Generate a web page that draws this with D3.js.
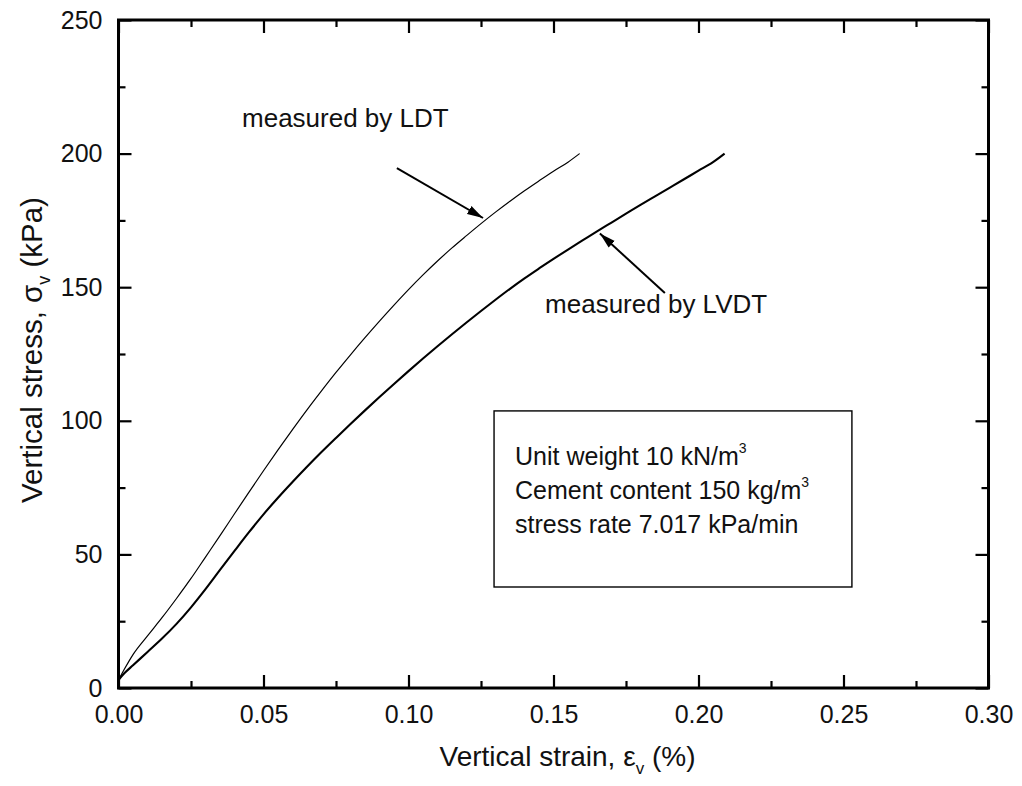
<!DOCTYPE html>
<html><head><meta charset="utf-8">
<script src="https://cdn.jsdelivr.net/npm/d3@7"></script>
<style>
html,body{margin:0;padding:0;background:#fff;}
svg{display:block;font-family:"Liberation Sans",Arial,sans-serif;}
</style></head>
<body>
<svg id="chart" width="1022" height="786"></svg>
<script>
// ---- data (strain in %, stress in kPa) ----
const ldtStrain = [0, 0.002, 0.005, 0.010, 0.015, 0.020, 0.025, 0.030, 0.035, 0.040, 0.045, 0.050, 0.055, 0.060, 0.065, 0.070, 0.075, 0.080, 0.085, 0.090, 0.095, 0.100, 0.105, 0.110, 0.115, 0.120, 0.125, 0.130, 0.135, 0.140, 0.145, 0.150, 0.155, 0.159];
const ldtStress = [3, 7, 12.5, 19.5, 26.3, 33.5, 41, 49, 57, 65.2, 73.3, 81.3, 89.1, 96.7, 104.1, 111.2, 118.1, 124.7, 131.1, 137.3, 143.3, 149.1, 154.6, 159.8, 164.7, 169.3, 173.8, 178.1, 182.2, 186.1, 189.8, 193.4, 196.8, 200];
const lvdtStrain = [0, 0.002, 0.005, 0.010, 0.015, 0.020, 0.025, 0.030, 0.035, 0.040, 0.045, 0.050, 0.055, 0.060, 0.065, 0.070, 0.075, 0.080, 0.085, 0.090, 0.095, 0.100, 0.105, 0.110, 0.115, 0.120, 0.125, 0.130, 0.135, 0.140, 0.145, 0.150, 0.155, 0.160, 0.165, 0.170, 0.175, 0.180, 0.185, 0.190, 0.195, 0.200, 0.205, 0.209];
const lvdtStress = [3, 5.5, 8.5, 13.5, 18.5, 24, 30.2, 37, 44.2, 51.3, 58.3, 65, 71.2, 77.1, 82.8, 88.3, 93.6, 98.8, 103.9, 108.9, 113.8, 118.6, 123.3, 127.9, 132.4, 136.8, 141.1, 145.3, 149.4, 153.3, 157, 160.6, 164.1, 167.5, 170.9, 174.2, 177.5, 180.8, 184, 187.2, 190.4, 193.6, 196.8, 200];

const xMajorTicks = [0, 0.05, 0.10, 0.15, 0.20, 0.25, 0.30];
const xMinorTicks = [0.025, 0.075, 0.125, 0.175, 0.225, 0.275];
const yMajorTicks = [0, 50, 100, 150, 200, 250];
const yMinorTicks = [25, 75, 125, 175, 225];

const xLabel = "Vertical strain, ";
const yLabel = "Vertical stress, ";
const boxLines = [["Unit weight 10 kN/m", "3"], ["Cement content 150 kg/m", "3"], ["stress rate 7.017 kPa/min", ""]];

// annotation anchors in data units
const ldtNote = {text: "measured by LDT", x: 0.0426, y: 210, from: [0.0960, 194.6], to: [0.1257, 175.9]};
const lvdtNote = {text: "measured by LVDT", x: 0.1471, y: 140.3, from: [0.1884, 147.8], to: [0.1660, 170.1]};
const infoBox = {x0: 0.1295, x1: 0.2529, y0: 103.7, y1: 37.8};

// ---- drawing ----
const svg = d3.select("#chart");
const x = d3.scaleLinear().domain([0, 0.30]).range([118.5, 988.5]);
const y = d3.scaleLinear().domain([0, 250]).range([688, 20]);
const fmtX = d3.format(".2f");

svg.append("defs").append("marker")
  .attr("id", "arrow").attr("markerUnits", "userSpaceOnUse")
  .attr("viewBox", "0 0 16 10").attr("refX", 16).attr("refY", 5)
  .attr("markerWidth", 16).attr("markerHeight", 10).attr("orient", "auto")
  .append("path").attr("d", "M0,0.5 L16,5 L0,9.5 Z").attr("fill", "#000");

const x0 = x.range()[0], x1 = x.range()[1], y0 = y.range()[0], y1 = y.range()[1];

function styleAxis(g) {
  g.select(".domain").remove();
  g.selectAll(".tick line").attr("stroke", "#000").attr("stroke-width", 2.2);
  g.selectAll("text").attr("font-size", 25).attr("fill", "#111");
}

// bottom
svg.append("g").attr("transform", `translate(0,${y0})`)
  .call(d3.axisBottom(x).tickValues(xMajorTicks).tickSize(-13).tickPadding(17).tickFormat(fmtX))
  .call(styleAxis);
svg.append("g").attr("transform", `translate(0,${y0})`)
  .call(d3.axisBottom(x).tickValues(xMinorTicks).tickSize(-7).tickFormat(""))
  .call(styleAxis);
// top
svg.append("g").attr("transform", `translate(0,${y1})`)
  .call(d3.axisTop(x).tickValues(xMajorTicks).tickSize(-13).tickFormat(""))
  .call(styleAxis);
svg.append("g").attr("transform", `translate(0,${y1})`)
  .call(d3.axisTop(x).tickValues(xMinorTicks).tickSize(-7).tickFormat(""))
  .call(styleAxis);
// left
svg.append("g").attr("transform", `translate(${x0},0)`)
  .call(d3.axisLeft(y).tickValues(yMajorTicks).tickSize(-13).tickPadding(16).tickFormat(d3.format("d")))
  .call(styleAxis);
svg.append("g").attr("transform", `translate(${x0},0)`)
  .call(d3.axisLeft(y).tickValues(yMinorTicks).tickSize(-7).tickFormat(""))
  .call(styleAxis);
// right
svg.append("g").attr("transform", `translate(${x1},0)`)
  .call(d3.axisRight(y).tickValues(yMajorTicks).tickSize(-13).tickFormat(""))
  .call(styleAxis);
svg.append("g").attr("transform", `translate(${x1},0)`)
  .call(d3.axisRight(y).tickValues(yMinorTicks).tickSize(-7).tickFormat(""))
  .call(styleAxis);

// frame
svg.append("rect").attr("x", x0).attr("y", y1).attr("width", x1 - x0).attr("height", y0 - y1)
  .attr("fill", "none").attr("stroke", "#000").attr("stroke-width", 3);

// curves
const line = d3.line().x(d => x(d[0])).y(d => y(d[1])).curve(d3.curveMonotoneX);
svg.append("path").datum(d3.zip(lvdtStrain, lvdtStress)).attr("d", line)
  .attr("fill", "none").attr("stroke", "#000").attr("stroke-width", 2.1);
svg.append("path").datum(d3.zip(ldtStrain, ldtStress)).attr("d", line)
  .attr("fill", "none").attr("stroke", "#000").attr("stroke-width", 1.2);

// annotations
[ldtNote, lvdtNote].forEach(n => {
  svg.append("text").attr("x", x(n.x)).attr("y", y(n.y)).attr("font-size", 26).attr("fill", "#111").text(n.text);
  svg.append("line").attr("x1", x(n.from[0])).attr("y1", y(n.from[1]))
    .attr("x2", x(n.to[0])).attr("y2", y(n.to[1]))
    .attr("stroke", "#000").attr("stroke-width", 2).attr("marker-end", "url(#arrow)");
});

// info box
svg.append("rect").attr("x", x(infoBox.x0)).attr("y", y(infoBox.y0))
  .attr("width", x(infoBox.x1) - x(infoBox.x0)).attr("height", y(infoBox.y1) - y(infoBox.y0))
  .attr("fill", "none").attr("stroke", "#000").attr("stroke-width", 1.4);
boxLines.forEach((l, i) => {
  const t = svg.append("text").attr("x", x(infoBox.x0) + 21).attr("y", y(infoBox.y0) + 54 + i * 34)
    .attr("font-size", 25).attr("fill", "#111");
  t.append("tspan").text(l[0]);
  if (l[1]) t.append("tspan").attr("dy", -12).attr("font-size", 14).text(l[1]);
});

// axis titles
const xt = svg.append("text").attr("x", (x0 + x1) / 2 + 14).attr("y", 766).attr("text-anchor", "middle")
  .attr("font-size", 28).attr("fill", "#111");
xt.append("tspan").text(xLabel + "\u03B5");
xt.append("tspan").attr("dy", 8).attr("font-size", 17).text("v");
xt.append("tspan").attr("dy", -8).text(" (%)");

const yt = svg.append("text").attr("transform", `translate(42,${(y0 + y1) / 2 - 4}) rotate(-90)`)
  .attr("text-anchor", "middle").attr("font-size", 29.5).attr("fill", "#111");
yt.append("tspan").text(yLabel + "\u03C3");
yt.append("tspan").attr("dy", 8).attr("font-size", 18).text("v");
yt.append("tspan").attr("dy", -8).text(" (kPa)");
</script>
</body></html>
